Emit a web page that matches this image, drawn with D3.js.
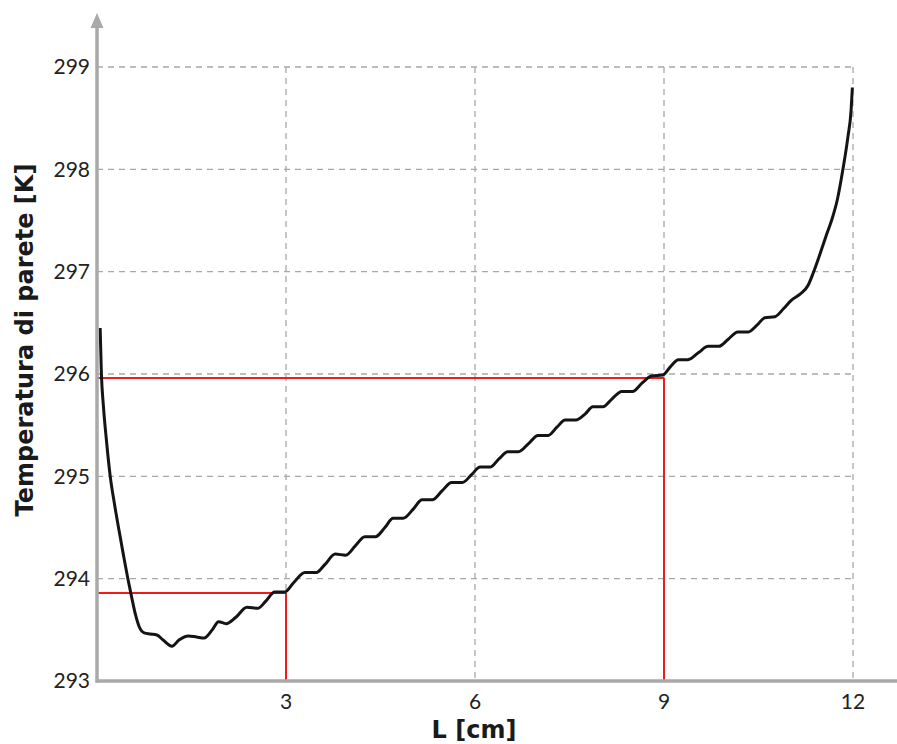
<!DOCTYPE html>
<html>
<head>
<meta charset="utf-8">
<script src="https://cdn.jsdelivr.net/npm/d3@7"></script>
<style>
  body { margin: 0; background: #fff; }
  svg { display: block; }
</style>
</head>
<body>
<div id="chart"></div>
<script>

// tick values
var xTicks = [3, 6, 9, 12];
var yTicks = [293, 294, 295, 296, 297, 298, 299];

// wall temperature along L
var L_cm = [0.05, 0.07, 0.10, 0.15, 0.21, 0.28, 0.35, 0.42, 0.49, 0.55, 0.61, 0.67, 0.75, 0.85, 0.95, 1.05, 1.19, 1.30, 1.45,
  1.58, 1.70, 1.83, 1.93, 2.05, 2.20, 2.38, 2.55, 2.68, 2.82, 2.98, 3.12, 3.30, 3.48, 3.62,
  3.78, 3.95, 4.10, 4.25, 4.42, 4.57, 4.70, 4.86, 5.02, 5.16, 5.32, 5.48, 5.63, 5.80, 5.95,
  6.08, 6.24, 6.38, 6.52, 6.69, 6.85, 7.00, 7.16, 7.30, 7.43, 7.60, 7.75, 7.87, 8.03, 8.18,
  8.33, 8.50, 8.65, 8.80, 8.98, 9.10, 9.23, 9.38, 9.55, 9.70, 9.87, 10.02, 10.17, 10.33, 10.48,
  10.60, 10.76, 10.90, 11.02, 11.16, 11.29, 11.37, 11.48, 11.59, 11.67, 11.75, 11.84, 11.92, 11.97, 11.99];
var T_K = [296.45, 296.0, 295.70, 295.35, 295.0, 294.72, 294.47, 294.23, 294.0, 293.82, 293.65, 293.53, 293.47, 293.46, 293.45, 293.40, 293.34, 293.40, 293.44,
  293.43, 293.42, 293.50, 293.58, 293.56, 293.62, 293.72, 293.71, 293.78, 293.87, 293.87, 293.96, 294.06, 294.06, 294.14,
  294.24, 294.23, 294.32, 294.41, 294.41, 294.50, 294.59, 294.59, 294.68, 294.77, 294.77, 294.86, 294.94, 294.94, 295.02,
  295.09, 295.09, 295.17, 295.24, 295.24, 295.32, 295.40, 295.40, 295.48, 295.55, 295.55, 295.61, 295.68, 295.68, 295.76,
  295.83, 295.83, 295.91, 295.98, 295.99, 296.07, 296.14, 296.14, 296.21, 296.27, 296.27, 296.34, 296.41, 296.41, 296.48,
  296.55, 296.56, 296.64, 296.72, 296.78, 296.87, 296.99, 297.18, 297.38, 297.52, 297.70, 298.0, 298.32, 298.58, 298.80];

// red guide points
var markL = [3, 9];
var markT = [293.86, 295.96];

var width = 897, height = 744;
var svg = d3.select("#chart").append("svg")
    .attr("width", width)
    .attr("height", height);

var x = d3.scaleLinear().domain([0, 12]).range([97, 853]);
var y = d3.scaleLinear().domain([293, 299]).range([681, 67]);

var font = "Lato, 'Open Sans', sans-serif";
var titleFont = "'DejaVu Sans', Verdana, sans-serif";
var gridCol = "#a8a8a8";
var axisCol = "#a9a9a9";

// grid
svg.append("g").selectAll("line.hg")
    .data(yTicks.slice(1))
    .enter().append("line")
    .attr("x1", x(0)).attr("x2", x(12))
    .attr("y1", d => y(d)).attr("y2", d => y(d))
    .attr("stroke", gridCol).attr("stroke-width", 1.3)
    .attr("stroke-dasharray", "6,5");

svg.append("g").selectAll("line.vg")
    .data(xTicks)
    .enter().append("line")
    .attr("x1", d => x(d)).attr("x2", d => x(d))
    .attr("y1", y(299)).attr("y2", y(293))
    .attr("stroke", gridCol).attr("stroke-width", 1.3)
    .attr("stroke-dasharray", "6,5");

// red guides
markL.forEach(function(l, i){
  var t = markT[i];
  svg.append("line")
    .attr("x1", x(0)).attr("x2", x(l))
    .attr("y1", y(t)).attr("y2", y(t))
    .attr("stroke", "#ee1c1c").attr("stroke-width", 2);
  svg.append("line")
    .attr("x1", x(l)).attr("x2", x(l))
    .attr("y1", y(t)).attr("y2", y(293))
    .attr("stroke", "#ee1c1c").attr("stroke-width", 2);
});

// curve
var pts = L_cm.map((l, i) => [l, T_K[i]]);
var line = d3.line()
    .x(d => x(d[0]))
    .y(d => y(d[1]))
    .curve(d3.curveMonotoneX);

svg.append("path")
    .datum(pts)
    .attr("d", line)
    .attr("fill", "none")
    .attr("stroke", "#141414")
    .attr("stroke-width", 3)
    .attr("stroke-linejoin", "round");

// axes
svg.append("line")
    .attr("x1", x(0)).attr("x2", x(0))
    .attr("y1", y(293) + 1.5).attr("y2", 26)
    .attr("stroke", axisCol).attr("stroke-width", 3.5);
svg.append("path")
    .attr("d", "M" + (x(0) - 6.5) + ",28 L" + x(0) + ",13 L" + (x(0) + 6.5) + ",28 Z")
    .attr("fill", axisCol);
svg.append("line")
    .attr("x1", x(0) - 1.5).attr("x2", width)
    .attr("y1", y(293)).attr("y2", y(293))
    .attr("stroke", axisCol).attr("stroke-width", 3.5);

// tick labels
svg.append("g").selectAll("text")
    .data(yTicks)
    .enter().append("text")
    .attr("x", 90)
    .attr("y", d => y(d))
    .attr("dy", "0.35em")
    .attr("text-anchor", "end")
    .attr("font-family", font)
    .attr("font-size", 21)
    .attr("fill", "#222")
    .text(d => d);

svg.append("g").selectAll("text")
    .data(xTicks)
    .enter().append("text")
    .attr("x", d => x(d))
    .attr("y", 709)
    .attr("text-anchor", "middle")
    .attr("font-family", font)
    .attr("font-size", 21)
    .attr("fill", "#222")
    .text(d => d);

// titles
svg.append("text")
    .attr("x", 474).attr("y", 738)
    .attr("text-anchor", "middle")
    .attr("font-family", titleFont)
    .attr("font-weight", "bold")
    .attr("font-size", 24)
    .attr("fill", "#1a1a1a")
    .text("L [cm]");

svg.append("text")
    .attr("transform", "translate(33,340) rotate(-90)")
    .attr("text-anchor", "middle")
    .attr("font-family", titleFont)
    .attr("font-weight", "bold")
    .attr("font-size", 24)
    .attr("fill", "#1a1a1a")
    .text("Temperatura di parete [K]");

</script>
</body>
</html>
